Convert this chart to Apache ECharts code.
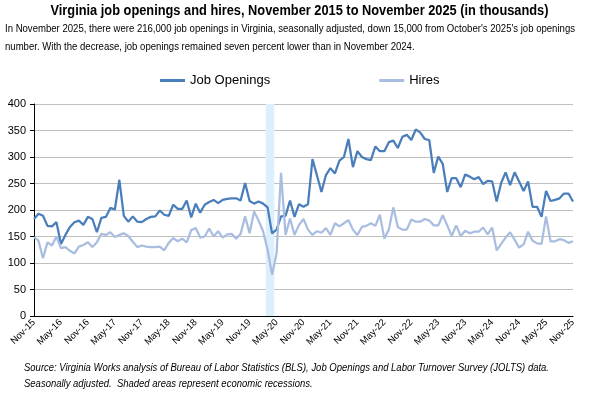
<!DOCTYPE html>
<html>
<head>
<meta charset="utf-8">
<script src="https://cdn.jsdelivr.net/npm/echarts@6/dist/echarts.min.js"></script>
<style>
html,body{margin:0;padding:0;background:#fff;}
#chart{width:599px;height:394px;}
</style>
</head>
<body>
<div id="chart"></div>
<script>
// Monthly, November 2015 (index 0) to November 2025 (index 120), thousands
const jobOpenings = [
  183, 193, 189, 170, 169, 177, 136, 153, 168, 177,
  180, 172, 187, 183, 158, 185, 187, 204, 201, 257,
  189, 178, 188, 178, 177, 183, 187, 188, 199, 191,
  189, 210, 202, 202, 218, 186, 212, 195, 210, 215,
  219, 213, 219, 221, 222, 222, 218, 251, 217, 212,
  216, 212, 205, 156, 163, 188, 189, 218, 187, 211,
  206, 211, 296, 265, 234, 266, 279, 269, 293, 300,
  334, 281, 311, 300, 296, 294, 320, 311, 311, 328,
  331, 317, 338, 342, 332, 352, 346, 334, 332, 270,
  301, 287, 234, 260, 260, 243, 267, 263, 258, 262,
  249, 255, 254, 216, 251, 271, 247, 271, 254, 236,
  254, 206, 206, 187, 236, 217, 219, 222, 231, 231,
  216
];
const hires = [
  149, 142, 109, 139, 133, 150, 128, 130, 123, 118,
  131, 134, 139, 130, 139, 155, 153, 158, 149, 153,
  156, 151, 140, 130, 133, 131, 130, 130, 131, 124,
  138, 147, 141, 146, 139, 162, 166, 148, 150, 165,
  150, 160, 148, 154, 155, 146, 155, 188, 156, 197,
  180, 160, 125, 78, 118, 270, 153, 184, 153, 172,
  183, 163, 153, 160, 157, 166, 153, 175, 169, 175,
  181, 163, 153, 168, 170, 175, 170, 191, 146, 163,
  205, 168, 163, 163, 182, 178, 178, 183, 180, 171,
  171, 190, 171, 151, 171, 151, 161, 156, 159, 159,
  167, 154, 167, 124, 136, 148, 158, 144, 129, 135,
  159, 142, 137, 136, 188, 141, 141, 145, 143, 138,
  141
];
const tickLabels = ["Nov-15","May-16","Nov-16","May-17","Nov-17","May-18","Nov-18","May-19","Nov-19","May-20","Nov-20","May-21","Nov-21","May-22","Nov-22","May-23","Nov-23","May-24","Nov-24","May-25","Nov-25"];
const seriesNames = ["Job Openings", "Hires"];
const recession = [51.6, 53.5]; // Mar-Apr 2020 (month index)

const titleText = 'Virginia job openings and hires, November 2015 to November 2025 (in thousands)';
const subLines = [
  "In November 2025, there were 216,000 job openings in Virginia, seasonally adjusted, down 15,000 from October's 2025's job openings",
  "number. With the decrease, job openings remained seven percent lower than in November 2024."
];
const footLines = [
  "Source: Virginia Works analysis of Bureau of Labor Statistics (BLS), Job Openings and Labor Turnover Survey (JOLTS) data.",
  "Seasonally adjusted.  Shaded areas represent economic recessions."
];

const FONT = "'Liberation Sans',Arial,sans-serif";
const ctx = document.createElement('canvas').getContext('2d');
function fit(text, font, target) { ctx.font = font; return target / ctx.measureText(text).width; }

const titleFont = "bold 14px " + FONT;
const subFont = "11.5px " + FONT;
const footFont = "italic 11.5px " + FONT;
const sTitle = fit(titleText, titleFont, 498);
const sSub = fit(subLines[0], subFont, 570);
const sFoot = fit(footLines[0], footFont, 525);

function textEl(text, font, x, y, sx, align) {
  return {type: 'text', x: x, y: y, scaleX: sx, silent: true,
    style: {text: text, font: font, fill: '#000', align: align || 'left', verticalAlign: 'middle'}};
}

const chart = echarts.init(document.getElementById('chart'), null, {renderer: 'canvas'});
const toPairs = arr => arr.map((v, i) => [i, v]);

chart.setOption({
  animation: false,
  backgroundColor: '#ffffff',
  textStyle: {fontFamily: FONT},
  graphic: [
    textEl(titleText, titleFont, 299.5, 11, sTitle, 'center'),
    textEl(subLines[0], subFont, 5, 29, sSub),
    textEl(subLines[1], subFont, 5, 47, sSub),
    textEl(footLines[0], footFont, 24, 368, sFoot),
    textEl(footLines[1], footFont, 24, 384, sFoot)
  ],
  legend: {
    data: seriesNames,
    left: 155, top: 69,
    itemWidth: 25, itemHeight: 3, icon: 'rect', itemGap: 109,
    textStyle: {fontFamily: FONT, fontSize: 13, color: '#000'}
  },
  grid: {left: 34, right: 26, top: 104, bottom: 78, containLabel: false},
  xAxis: {
    type: 'value', min: 0, max: 120, interval: 6,
    axisLine: {show: true, lineStyle: {color: '#000', width: 1}},
    axisTick: {show: false},
    splitLine: {show: false},
    axisLabel: {
      rotate: 45, fontSize: 9.5, color: '#000', fontFamily: FONT, margin: 5,
      formatter: v => tickLabels[Math.round(v / 6)] || ''
    }
  },
  yAxis: {
    type: 'value', min: 0, max: 400, interval: 50,
    axisLine: {show: true, lineStyle: {color: '#000', width: 1}},
    axisTick: {show: true, length: 4, lineStyle: {color: '#000'}},
    splitLine: {show: true, lineStyle: {color: '#bfbfbf', width: 1}},
    axisLabel: {fontSize: 11, color: '#000', fontFamily: FONT, margin: 8}
  },
  series: [
    {
      name: 'recession', type: 'line', data: [], silent: true, z: 1,
      markArea: {silent: true, itemStyle: {color: '#dbeffc'},
        data: [[{xAxis: recession[0]}, {xAxis: recession[1]}]]}
    },
    {
      name: seriesNames[0], type: 'line', data: toPairs(jobOpenings), z: 3,
      symbol: 'none', color: '#4a7ebb', lineStyle: {width: 2.25, color: '#4a7ebb'}
    },
    {
      name: seriesNames[1], type: 'line', data: toPairs(hires), z: 4,
      symbol: 'none', color: '#a9bde0', lineStyle: {width: 2.25, color: '#a9bde0'}
    }
  ]
});
</script>
</body>
</html>
